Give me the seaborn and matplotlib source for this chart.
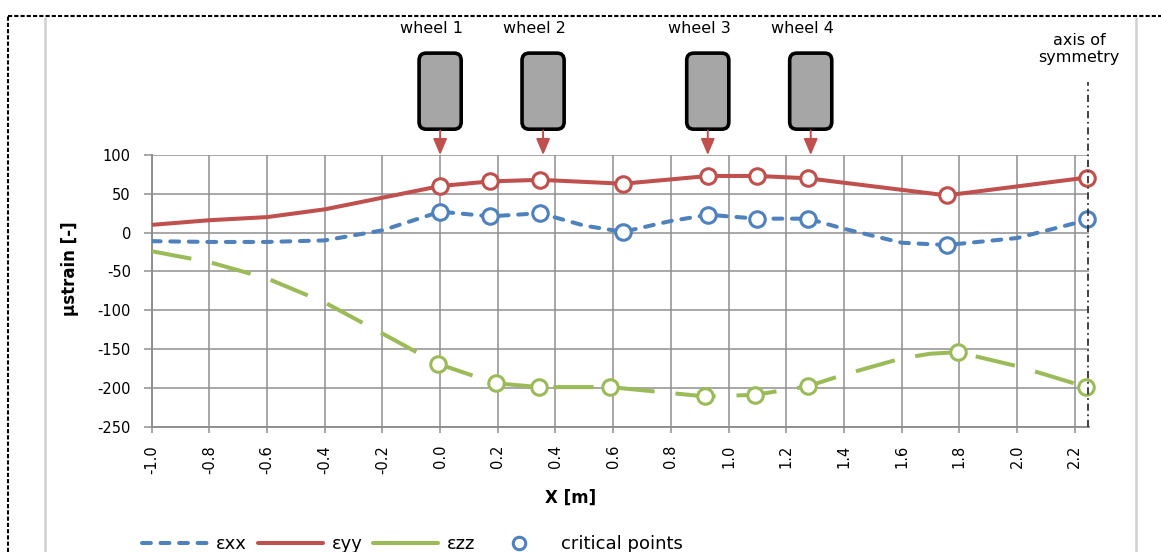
import matplotlib
matplotlib.use("Agg")
import pandas as pd
import matplotlib.pyplot as plt
import seaborn as sns
from matplotlib.lines import Line2D
from matplotlib.patches import FancyBboxPatch

# ---------------- data ----------------
x_xx = [-1.0, -0.8, -0.6, -0.4, -0.2, -0.1, 0.0, 0.174, 0.347, 0.5, 0.635, 0.8, 0.93, 1.10, 1.275, 1.4, 1.6, 1.756, 2.0, 2.2, 2.244]
eps_xx = [-11, -12, -12, -10, 3, 15, 27, 21, 25, 9, 1, 15, 23, 18, 18, 5, -13, -16, -7, 12, 18]

x_yy = [-1.0, -0.8, -0.6, -0.4, -0.2, 0.0, 0.174, 0.347, 0.635, 0.93, 1.10, 1.275, 1.756, 2.244]
eps_yy = [10, 16, 20, 30, 45, 60, 66, 68, 63, 73, 73, 70, 48, 71]

x_zz = [-1.0, -0.8, -0.6, -0.4, -0.2, -0.008, 0.192, 0.343, 0.59, 0.7, 0.918, 1.091, 1.274, 1.4, 1.6, 1.7, 1.796, 2.0, 2.1, 2.241]
eps_zz = [-24, -38, -59, -90, -130, -169, -194, -199, -199, -203, -211, -209, -198, -183, -162, -156, -154, -172, -183, -199]

# critical points (marked with circles)
crit_x = [0.0, 0.174, 0.347, 0.635, 0.93, 1.10, 1.275, 1.756, 2.244]
crit_xx = [27, 21, 25, 1, 23, 18, 18, -16, 18]
crit_yy = [60, 66, 68, 63, 73, 73, 70, 48, 71]
crit_x_zz = [-0.008, 0.192, 0.343, 0.59, 0.918, 1.091, 1.274, 1.796, 2.241]
crit_zz = [-169, -194, -199, -199, -211, -209, -198, -154, -199]

wheel_x = [0.0, 0.357, 0.928, 1.285]
wheel_labels = ["wheel 1", "wheel 2", "wheel 3", "wheel 4"]
sym_x = 2.245

x_ticks = [-1.0, -0.8, -0.6, -0.4, -0.2, 0.0, 0.2, 0.4, 0.6, 0.8, 1.0, 1.2, 1.4, 1.6, 1.8, 2.0, 2.2]
y_ticks = [-250, -200, -150, -100, -50, 0, 50, 100]

c_xx = "#4F81BD"
c_yy = "#C0504D"
c_zz = "#9BBB59"

df_xx = pd.DataFrame({"x": x_xx, "eps": eps_xx})
df_yy = pd.DataFrame({"x": x_yy, "eps": eps_yy})
df_zz = pd.DataFrame({"x": x_zz, "eps": eps_zz})

sns.set_theme(style="white")
plt.rcParams["font.family"] = ["DejaVu Sans"]
plt.rcParams["text.color"] = "black"
plt.rcParams["axes.labelcolor"] = "black"
plt.rcParams["xtick.color"] = "black"
plt.rcParams["ytick.color"] = "black"

fig = plt.figure(figsize=(11.61, 5.52), dpi=100)
ax = fig.add_axes([0.1307, 0.2270, 0.8073, 0.4922])

# lines
sns.lineplot(data=df_zz, x="x", y="eps", ax=ax, color=c_zz, linewidth=2.9,
             linestyle=(0, (10, 5.2)), legend=False, zorder=3)
sns.lineplot(data=df_xx, x="x", y="eps", ax=ax, color=c_xx, linewidth=2.9,
             linestyle=(0, (2.2, 2.4)), dash_capstyle="round", legend=False, zorder=3)
sns.lineplot(data=df_yy, x="x", y="eps", ax=ax, color=c_yy, linewidth=2.9,
             legend=False, zorder=3)

# critical points
for xs, ys, c in [(crit_x, crit_xx, c_xx), (crit_x, crit_yy, c_yy), (crit_x_zz, crit_zz, c_zz)]:
    sns.scatterplot(x=xs, y=ys, ax=ax, color="white", edgecolor=c, linewidth=2.2,
                    s=125, zorder=5, legend=False, clip_on=False)

ax.set_xlim(-1.0, 2.25)
ax.set_ylim(-250, 100)
ax.set_xticks(x_ticks)
ax.set_xticklabels([f"{v:.1f}" for v in x_ticks], rotation=90, fontsize=10.5)
ax.set_yticks(y_ticks)
ax.set_yticklabels([str(v) for v in y_ticks], fontsize=10.5)
ax.grid(True, color="#8f8f8f", linewidth=1.1)
ax.tick_params(axis="y", length=6, width=1.1, color="#8f8f8f", labelcolor="black", pad=9, left=True)
ax.tick_params(axis="x", length=4, width=1.1, color="#8f8f8f", labelcolor="black", pad=9, bottom=True)
for side in ["top", "right"]:
    ax.spines[side].set_visible(False)
for side in ["left", "bottom"]:
    ax.spines[side].set_color("#8f8f8f")
    ax.spines[side].set_linewidth(1.4)

ax.set_xlabel("X [m]", fontsize=12, fontweight="bold", color="black")
ax.xaxis.set_label_coords(0.447, -0.23)
ax.set_ylabel("μstrain [-]", fontsize=12, fontweight="bold", color="black")
ax.yaxis.set_label_coords(-0.078, 0.58)

# axis of symmetry
trans = ax.get_xaxis_transform()
ax.plot([sym_x, sym_x], [0, 1.27], transform=trans, color="#333333", lw=1.3,
        linestyle=(0, (4, 2, 1, 2)), clip_on=False, zorder=6)
ax.text(sym_x - 0.03, 1.39, "axis of\nsymmetry", transform=trans, ha="center",
        va="center", fontsize=11.5, linespacing=1.15)

# wheels
w_half = 0.073
for wx, lab in zip(wheel_x, wheel_labels):
    box = FancyBboxPatch((wx - w_half, 1.095), 2 * w_half, 0.28, transform=trans,
                         boxstyle="round,pad=0,rounding_size=0.025", mutation_aspect=1.06,
                         fc="#a6a6a6", ec="black", lw=2.6, clip_on=False)
    ax.add_patch(box)
    ax.annotate("", xy=(wx, 1.0), xytext=(wx, 1.09), xycoords=trans, textcoords=trans,
                arrowprops=dict(arrowstyle="-|>,head_length=0.7,head_width=0.3",
                                color=c_yy, lw=1.4, shrinkA=0, shrinkB=0,
                                mutation_scale=14),
                annotation_clip=False)
    ax.text(wx - 0.03, 1.465, lab, transform=trans, ha="center", va="center", fontsize=11.5)

# legend
handles = [
    Line2D([], [], color=c_xx, lw=2.9, linestyle=(0, (2.2, 2.4)), dash_capstyle="round"),
    Line2D([], [], color=c_yy, lw=2.9),
    Line2D([], [], color=c_zz, lw=2.9),
    Line2D([], [], color=c_xx, lw=0, marker="o", markerfacecolor="white",
           markeredgecolor=c_xx, markeredgewidth=2.2, markersize=9),
]
fig.legend(handles, ["εxx", "εyy", "εzz", "critical points"], loc="center",
           bbox_to_anchor=(0.355, 0.014), ncol=4, frameon=False, fontsize=13,
           handlelength=3.6, handletextpad=0.5, columnspacing=0.6)

# outer frame lines
fig.add_artist(Line2D([0.0069, 1.0], [0.971, 0.971], transform=fig.transFigure,
                      color="black", lw=1.5, linestyle=(0, (2, 1))))
fig.add_artist(Line2D([0.0069, 0.0069], [0.0, 0.971], transform=fig.transFigure,
                      color="black", lw=1.5, linestyle=(0, (2, 1))))
fig.add_artist(Line2D([0.0388, 0.0388], [0.0, 0.968], transform=fig.transFigure,
                      color="#d0d0d0", lw=1.8))
fig.add_artist(Line2D([0.9785, 0.9785], [0.0, 0.968], transform=fig.transFigure,
                      color="#d0d0d0", lw=1.8))

fig.savefig("out.png", dpi=100)
